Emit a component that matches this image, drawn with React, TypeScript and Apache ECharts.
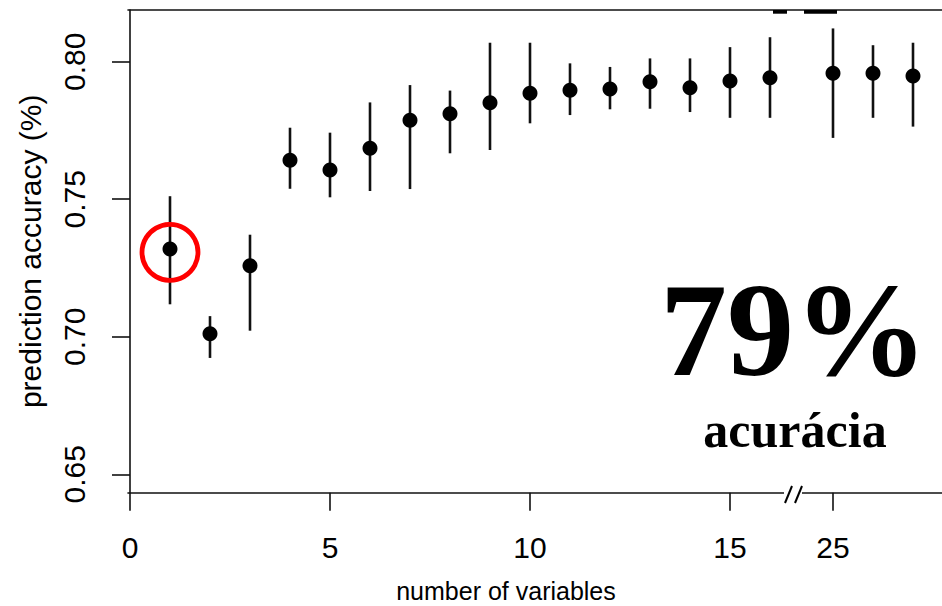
import React, { useEffect, useRef } from "react";
import * as echarts from "echarts";

// number of variables (x) with the mean prediction accuracy and its range
const numVars = [1, 2, 3, 4, 5, 6, 7, 8, 9, 10, 11, 12, 13, 14, 15, 16, 25, 26, 27];
const meanAcc = [0.7319, 0.7011, 0.7258, 0.7642, 0.7606, 0.7685, 0.7787, 0.7811, 0.7851, 0.7885, 0.7896, 0.7901, 0.7927, 0.7905, 0.793, 0.7942, 0.7958, 0.7958, 0.7948];
const lowerAcc = [0.7118, 0.6923, 0.7022, 0.7538, 0.7507, 0.753, 0.7537, 0.7667, 0.7679, 0.7776, 0.7806, 0.7827, 0.7829, 0.7817, 0.7796, 0.7796, 0.7723, 0.7796, 0.7764];
const upperAcc = [0.7511, 0.7075, 0.7371, 0.776, 0.7742, 0.7852, 0.7915, 0.7895, 0.8069, 0.8069, 0.7994, 0.7981, 0.8012, 0.8012, 0.8053, 0.8089, 0.8121, 0.806, 0.8069];
const xTicks = [0, 5, 10, 15, 25];
const yTicks = [0.65, 0.7, 0.75, 0.8];
const highlighted = { vars: 1, acc: 0.7307 };
const bigValue = "79%";
const bigCaption = "acurácia";

// axis break: values above BREAK_AT are drawn shifted left
const BREAK_AT = 16;
const BREAK_SHIFT = 7.425;
const toPos = (v: number) => (v > BREAK_AT ? v - BREAK_SHIFT : v);

const SANS = "'Liberation Sans', Arial, Helvetica, sans-serif";
const SERIF = "'Liberation Serif', 'Times New Roman', serif";

export default function App() {
  const ref = useRef<HTMLDivElement>(null);
  useEffect(() => {
    if (!ref.current) return;
    const chart = echarts.init(ref.current, undefined, { renderer: "svg" });
    const xMin = -0.05;
    const xMax = 20.3;
    const tickPos = xTicks.map(toPos);
    const axisCommon = {
      type: "value" as const,
      min: xMin,
      max: xMax,
      splitLine: { show: false },
    };
    chart.setOption({
      animation: false,
      backgroundColor: "#ffffff",
      grid: { left: 128, right: 0, top: 10, bottom: 113.3, containLabel: false, outerBoundsMode: "none" },
      xAxis: [
        {
          ...axisCommon,
          position: "bottom",
          name: "number of variables",
          nameLocation: "middle",
          nameGap: 88.5,
          nameTextStyle: { fontFamily: SANS, fontSize: 25, lineHeight: 20, color: "#000", padding: [0, 58, 0, 0] },
          axisLine: { show: true, lineStyle: { color: "#111", width: 1.6 } },
          axisTick: { show: true, length: 18, customValues: tickPos, lineStyle: { color: "#111", width: 1.6 } },
          axisLabel: {
            show: true,
            customValues: tickPos,
            margin: 40,
            fontFamily: SANS,
            fontSize: 30,
            color: "#000",
            formatter: (v: number) => {
              const i = tickPos.findIndex((p) => Math.abs(p - v) < 1e-6);
              return i >= 0 ? String(xTicks[i]) : "";
            },
          },
        },
        {
          ...axisCommon,
          position: "top",
          axisLine: { show: true, lineStyle: { color: "#111", width: 1.6 } },
          axisTick: { show: false },
          axisLabel: { show: false },
        },
      ],
      yAxis: {
        type: "value",
        min: 0.6433,
        max: 0.8188,
        splitLine: { show: false },
        name: "prediction accuracy (%)",
        nameLocation: "middle",
        nameGap: 83,
        nameRotate: 90,
        nameTextStyle: { fontFamily: SANS, fontSize: 30, color: "#000" },
        axisLine: { show: true, lineStyle: { color: "#111", width: 1.6 } },
        axisTick: { show: true, length: 18, customValues: yTicks, lineStyle: { color: "#111", width: 1.6 } },
        axisLabel: {
          show: true,
          customValues: yTicks,
          rotate: 90,
          margin: 38.4,
          fontFamily: SANS,
          fontSize: 30,
          color: "#000",
          formatter: (v: number) => v.toFixed(2),
        },
      },
      series: [
        {
          type: "custom",
          xAxisIndex: 0,
          data: numVars.map((v, i) => [toPos(v), lowerAcc[i], upperAcc[i]]),
          encode: { x: 0, y: [1, 2] },
          renderItem: (params: any, api: any) => {
            const x = api.value(0);
            const p1 = api.coord([x, api.value(1)]);
            const p2 = api.coord([x, api.value(2)]);
            return {
              type: "line",
              shape: { x1: p1[0], y1: p1[1], x2: p2[0], y2: p2[1] },
              style: { stroke: "#111", lineWidth: 2.6 },
            };
          },
          z: 2,
        },
        {
          type: "scatter",
          xAxisIndex: 0,
          data: numVars.map((v, i) => [toPos(v), meanAcc[i]]),
          symbol: "circle",
          symbolSize: 15,
          itemStyle: { color: "#000", opacity: 1 },
          z: 3,
        },
        {
          type: "scatter",
          xAxisIndex: 0,
          data: [[toPos(highlighted.vars), highlighted.acc]],
          symbol: "circle",
          symbolSize: 56,
          itemStyle: { color: "rgba(0,0,0,0)", borderColor: "#ff0000", borderWidth: 4.8, opacity: 1 },
          z: 4,
        },
      ],
      graphic: [
        // thick segment on the top border
        { type: "rect", shape: { x: 773, y: 10, width: 14, height: 3.7 }, style: { fill: "#000" }, z: 10 },
        { type: "rect", shape: { x: 804, y: 10, width: 33, height: 3.7 }, style: { fill: "#000" }, z: 10 },
        // axis break mark
        { type: "rect", shape: { x: 784, y: 489, width: 18, height: 7 }, style: { fill: "#fff" }, z: 10 },
        { type: "line", shape: { x1: 785, y1: 503, x2: 792, y2: 486 }, style: { stroke: "#000", lineWidth: 2 }, z: 11 },
        { type: "line", shape: { x1: 795, y1: 503, x2: 802, y2: 486 }, style: { stroke: "#000", lineWidth: 2 }, z: 11 },
        {
          type: "text",
          x: 794,
          y: 330,
          style: {
            text: bigValue,
            fontFamily: SERIF,
            fontWeight: "bold",
            fontSize: 134,
            fill: "#000",
            textAlign: "center",
            textVerticalAlign: "middle",
          },
          z: 12,
        },
        {
          type: "text",
          x: 795,
          y: 430,
          style: {
            text: bigCaption,
            fontFamily: SERIF,
            fontWeight: "bold",
            fontSize: 50,
            fill: "#000",
            textAlign: "center",
            textVerticalAlign: "middle",
          },
          z: 12,
        },
      ],
    });
    return () => chart.dispose();
  }, []);
  return (
    <div
      ref={ref}
      style={{ position: "absolute", left: 0, top: 0, width: 942, height: 606, background: "#fff" }}
    />
  );
}
